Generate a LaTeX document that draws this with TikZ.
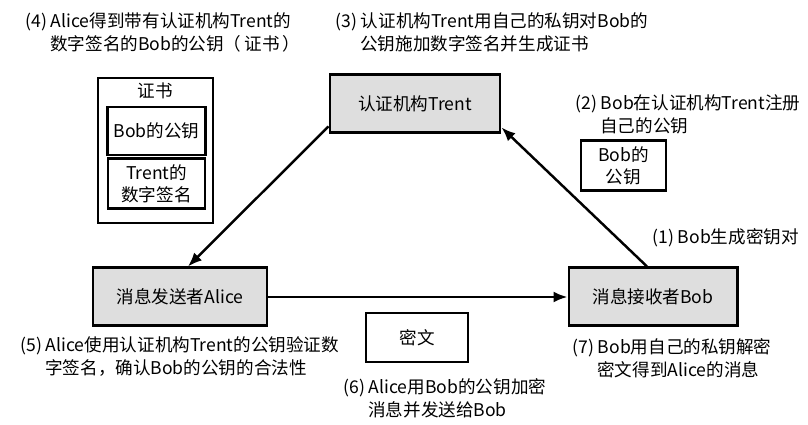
\documentclass[tikz,border=0pt]{standalone}
\usepackage{fontspec}
\setmainfont{Noto Sans CJK SC}
\usetikzlibrary{arrows.meta}

\newcommand{\ind}{\hspace*{0.5cm}}

\begin{document}
\begin{tikzpicture}[
  party/.style={draw, line width=1.7pt, fill=black!13, minimum height=1.16cm, font=\fontsize{10}{13}\selectfont},
  keybox/.style={draw, line width=1.6pt, fill=white, minimum width=1.94cm, minimum height=0.96cm, align=center, font=\fontsize{10}{12.5}\selectfont},
  note/.style={anchor=north west, inner sep=0pt, align=left, font=\fontsize{10}{13}\selectfont},
  arr/.style={-{Latex[length=0.28cm, width=0.22cm]}, line width=1.4pt},
]
\useasboundingbox (0,0) rectangle (16.16,8.5);
\node[party, minimum width=3.4cm]  (trent) at (8.30, 6.42) {认证机构Trent};
\node[party, minimum width=3.48cm] (alice) at (3.60, 2.56) {消息发送者Alice};
\node[party, minimum width=3.36cm] (bob)   at (13.06, 2.56) {消息接收者Bob};
% certificate
\node[draw, line width=1.6pt, minimum width=2.30cm, minimum height=2.90cm] (cert) at (3.11, 5.49) {};
\node[inner sep=0pt, font=\fontsize{10}{13}\selectfont] (certlbl) at (3.10, 6.68) {证书};
\node[keybox] (certkey) at (3.13, 5.88) {Bob的公钥};
\node[keybox, minimum height=0.98cm] (certsig) at (3.13, 4.83) {Trent的\\数字签名};
\node[keybox, minimum width=1.70cm, minimum height=0.98cm] (bobkey) at (12.47, 5.19) {Bob的\\公钥};
\node[keybox, minimum width=2.04cm, minimum height=0.98cm] (cipher) at (8.34, 1.75) {密文};
% steps
\node[note] (s1) at (13.04, 3.94) {(1) Bob生成密钥对};
\node[note] (s2) at (11.50, 6.62) {(2) Bob在认证机构Trent注册\\\ind 自己的公钥};
\node[note] (s3) at (6.70, 8.26) {(3) 认证机构Trent用自己的私钥对Bob的\\\ind 公钥施加数字签名并生成证书};
\node[note] (s4) at (0.50, 8.26) {(4) Alice得到带有认证机构Trent的\\\ind 数字签名的Bob的公钥（\,证书\,）};
\node[note] (s5) at (0.40, 1.78) {(5) Alice使用认证机构Trent的公钥验证数\\\ind 字签名，确认Bob的公钥的合法性};
\node[note] (s6) at (6.86, 0.94) {(6) Alice用Bob的公钥加密\\\ind 消息并发送给Bob};
\node[note] (s7) at (11.44, 1.74) {(7) Bob用自己的私钥解密\\\ind 密文得到Alice的消息};
\draw[arr] ([xshift=-0.12cm]bob.north) -- ([yshift=0.14cm]trent.south east);
\draw[arr] ([yshift=0.16cm]trent.south west) -- ([xshift=0.16cm]alice.north);
\draw[arr] (alice.east) -- (bob.west);
\end{tikzpicture}
\end{document}
